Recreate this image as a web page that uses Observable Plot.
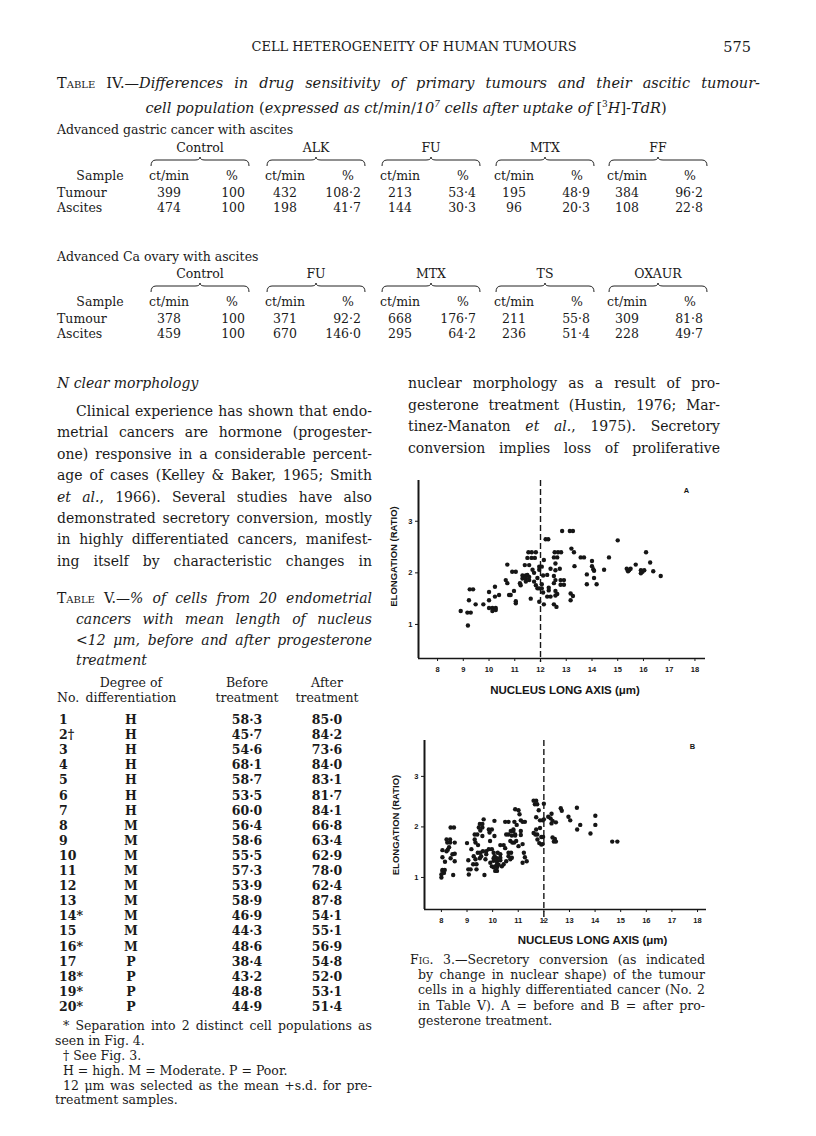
<!DOCTYPE html>
<html><head><meta charset="utf-8">
<script src="https://cdn.jsdelivr.net/npm/d3@7"></script>
<script src="https://cdn.jsdelivr.net/npm/@observablehq/plot@0.6"></script>
<style>
body{margin:0;background:#fff;}
#page{position:relative;width:816px;height:1136px;font-family:"DejaVu Serif",serif;color:#1a1a1a;overflow:hidden;background:#fff;}
.t{position:absolute;white-space:nowrap;line-height:16px;}
.sc{font-variant:small-caps;}
.chart{position:absolute;}
</style></head>
<body><div id="page"></div>
<script>
// ---------- Chart data (Fig. 3) ----------
const beforeX = [8.9,9.16,9.29,9.18,9.22,9.25,9.38,9.48,9.78,10.0,10.0,10.0,10.13,10.26,10.13,10.26,10.23,10.23,10.39,10.65,10.71,10.71,10.78,10.84,10.9,11.04,10.97,11.04,11.04,11.2,11.23,11.3,11.43,11.49,11.3,11.43,11.56,11.56,11.43,11.39,11.56,11.49,11.65,11.78,11.53,11.66,11.82,11.62,11.69,11.75,11.75,11.82,11.88,11.95,11.88,11.95,11.95,11.95,
12.84,13.14,13.26,12.2,12.3,13.2,13.3,12.55,12.68,12.8,12.52,12.65,13.56,13.69,12.13,12.58,13.32,14.0,14.0,14.05,14.08,14.66,15.0,14.47,13.8,14.08,13.8,14.18,15.35,15.44,15.4,15.5,15.7,15.9,15.96,15.9,16.03,16.1,16.26,16.38,16.67,12.39,12.58,12.75,12.26,12.52,12.58,12.78,12.91,12.52,12.78,12.91,12.32,12.32,12.58,12.65,12.58,13.17,13.26,13.17,12.26,12.39,12.13,12.52,12.62,12.05,12.05,12.1,12.05,12.1];
const beforeY = [1.26,1.23,1.23,0.98,1.47,1.68,1.68,1.39,1.39,1.63,1.47,1.32,1.32,1.32,1.26,1.28,1.73,1.54,1.57,1.86,1.8,2.16,1.57,1.57,2.02,2.02,1.65,1.45,1.41,1.8,1.76,1.95,1.95,1.96,1.89,1.89,1.92,1.86,1.83,2.15,2.15,2.29,2.29,2.29,2.4,2.4,2.4,1.5,2.06,2.0,1.83,1.76,1.7,1.7,1.9,2.12,2.06,1.44,
2.81,2.81,2.81,2.65,2.65,2.47,2.4,2.4,2.4,2.4,2.3,2.3,2.3,2.3,2.25,2.18,2.13,2.23,2.13,2.07,2.04,2.3,2.63,2.06,1.97,1.9,1.78,1.78,2.08,2.05,2.03,2.08,2.16,2.05,2.02,1.99,2.05,2.4,2.2,2.03,1.94,2.08,2.05,2.08,1.96,1.94,1.86,1.86,1.86,1.8,1.77,1.77,1.71,1.66,1.65,1.59,1.56,1.6,1.55,1.47,1.54,1.54,1.39,1.39,1.34,1.78,1.7,1.62,2.12,1.95];
const afterX = [8.0,8.0,8.04,8.04,8.13,8.1,8.04,8.04,8.14,8.2,8.25,8.23,8.34,8.2,8.34,8.3,8.36,8.43,8.36,8.49,8.52,8.52,8.52,8.46,9.0,9.05,9.05,9.14,9.07,9.17,9.24,9.37,9.26,9.33,9.3,9.4,9.3,9.33,9.43,9.42,9.52,9.62,9.5,9.55,9.37,9.46,9.6,9.5,9.6,9.52,9.65,9.6,9.68,9.75,9.75,9.72,9.85,9.97,9.88,9.9,9.85,9.97,10.04,10.17,9.97,10.1,9.91,10.04,10.17,10.3,10.07,10.07,10.04,10.2,10.08,10.04,10.17,10.23,10.1,10.17,10.17,10.3,10.3,10.36,10.43,10.3,10.43,10.53,10.49,10.49,10.62,10.53,10.62,10.62,10.72,10.62,10.69,10.75,10.69,10.77,10.84,10.71,10.81,10.75,10.88,10.81,10.88,11.01,10.85,10.94,10.88,10.92,11.01,11.05,11.1,11.1,11.1,11.17,11.17,11.26,11.22,11.26,11.33,11.17,11.6,11.7,11.65,11.74,11.8,11.7,11.6,11.67,11.74,11.7,11.75,11.82,11.9,11.95,11.9,11.97,11.85,11.95,11.85,12.0,12.0,
12.17,12.26,12.3,12.34,12.47,12.3,12.34,12.43,12.39,12.47,12.66,12.7,12.96,13.03,13.29,13.42,13.3,13.82,14.01,14.01,14.67,14.87];
const afterY = [1.0,1.06,1.13,1.15,1.15,1.09,1.54,1.4,1.31,1.52,1.55,1.69,1.69,1.75,1.75,1.6,1.38,1.46,1.99,1.99,1.69,1.47,1.32,1.05,1.68,1.34,1.16,1.16,1.06,1.56,1.26,1.26,1.42,1.36,1.85,1.85,1.75,1.69,1.64,1.49,1.49,1.52,1.38,1.42,1.16,1.99,1.99,2.06,2.06,1.93,2.15,1.82,1.05,1.52,1.46,1.36,1.95,1.95,1.89,1.72,1.56,1.56,1.38,1.38,1.22,1.22,1.29,1.33,1.32,1.34,2.12,1.82,1.49,1.49,1.42,1.2,1.2,1.25,1.13,1.13,1.26,1.39,1.46,1.22,1.26,1.64,1.64,1.32,1.58,2.1,2.1,1.85,1.85,1.49,1.49,1.42,1.36,1.39,1.72,1.69,1.69,1.92,1.92,1.83,1.85,1.95,2.35,2.33,2.1,2.04,1.83,1.72,1.62,2.25,2.13,1.92,1.84,1.66,2.1,2.1,1.49,1.4,1.32,1.29,2.52,2.52,2.45,2.45,2.33,2.19,1.88,1.85,1.85,1.95,1.75,1.68,1.65,1.66,1.8,1.8,2.13,2.13,1.98,2.46,2.15,
2.2,2.17,2.26,2.12,2.09,2.07,1.79,1.76,1.71,1.71,2.37,2.32,2.2,2.13,2.38,2.04,1.95,1.87,2.22,2.04,1.71,1.71];
const xTicks = [8,9,10,11,12,13,14,15,16,17,18];
const yTicks = [1,2,3];
const cutoff = [12];

// ---------- Table data ----------
const gastricGroups = ["Control","ALK","FU","MTX","FF"];
const gastricTumourCt = [399,432,213,195,384];
const gastricTumourPct = ["100","108·2","53·4","48·9","96·2"];
const gastricAscitesCt = [474,198,144,96,108];
const gastricAscitesPct = ["100","41·7","30·3","20·3","22·8"];
const ovaryGroups = ["Control","FU","MTX","TS","OXAUR"];
const ovaryTumourCt = [378,371,668,211,309];
const ovaryTumourPct = ["100","92·2","176·7","55·8","81·8"];
const ovaryAscitesCt = [459,670,295,236,228];
const ovaryAscitesPct = ["100","146·0","64·2","51·4","49·7"];

const caseNo = ["1","2†","3","4","5","6","7","8","9","10","11","12","13","14*","15","16*","17","18*","19*","20*"];
const degree = ["H","H","H","H","H","H","H","M","M","M","M","M","M","M","M","M","P","P","P","P"];
const beforeTreat = [58.3,45.7,54.6,68.1,58.7,53.5,60.0,56.4,58.6,55.5,57.3,53.9,58.9,46.9,44.3,48.6,38.4,43.2,48.8,44.9];
const afterTreat = [85.0,84.2,73.6,84.0,83.1,81.7,84.1,66.8,63.4,62.9,78.0,62.4,87.8,54.1,55.1,56.9,54.8,52.0,53.1,51.4];

const page = document.getElementById("page");
function put(html, x, y, o = {}) {
  const d = document.createElement("div");
  d.className = "t";
  const size = o.size || 13;
  d.style.fontSize = size + "px";
  d.style.top = (y - 8) + "px";
  if (o.italic) d.style.fontStyle = "italic";
  if (o.bold) d.style.fontWeight = "bold";
  d.innerHTML = html;
  if (o.w) {
    d.style.width = o.w + "px";
    const a = o.align || "left";
    d.style.left = (a === "center" ? x - o.w / 2 : a === "right" ? x - o.w : x) + "px";
    d.style.textAlign = a;
  } else d.style.left = x + "px";
  page.appendChild(d);
  if (o.justify) {
    let fs = size;
    while (d.scrollWidth > o.w + 0.5 && fs > 7) { fs -= 0.25; d.style.fontSize = fs + "px"; }
    d.style.whiteSpace = "normal";
    d.style.textAlign = "justify";
    d.style.textAlignLast = "justify";
  }
  return d;
}
function brace(cx, y, w) {
  const ns = "http://www.w3.org/2000/svg";
  const s = document.createElementNS(ns, "svg");
  s.setAttribute("width", w + 2); s.setAttribute("height", 12);
  s.style.position = "absolute"; s.style.left = (cx - w / 2 - 1) + "px"; s.style.top = (y - 5) + "px";
  const p = document.createElementNS(ns, "path");
  const h = w / 2 + 1;
  p.setAttribute("d", `M1,10 Q1,4 6,4 L${h - 5},4 Q${h},4 ${h},1 Q${h},4 ${h + 5},4 L${w - 4},4 Q${w + 1},4 ${w + 1},10`);
  p.setAttribute("fill", "none"); p.setAttribute("stroke", "#222"); p.setAttribute("stroke-width", "1");
  s.appendChild(p); page.appendChild(s);
}
const fmt = v => v.toFixed(1).replace(".", "·");

// ---------- Running head ----------
put("CELL HETEROGENEITY OF HUMAN TUMOURS", 414, 47, {w: 420, align: "center", size: 13});
put("575", 751, 47, {w: 60, align: "right", size: 14.5});

// ---------- Table IV ----------
put('<span class="sc">Table</span> IV.—<i>Differences in drug sensitivity of primary tumours and their ascitic tumour-</i>', 57, 83, {w: 703, justify: true, size: 14.5});
put('<i>cell population</i> (<i>expressed as ct</i>/<i>min</i>/<i>10<sup style="font-size:9px">7</sup> cells after uptake of</i> [<sup style="font-size:9px">3</sup><i>H</i>]-<i>TdR</i>)', 406, 104, {w: 620, align: "center", size: 14.5});

const centers = [200, 316, 431, 545, 658];
function tableIV(label, yLabel, yG, groups, tCt, tPct, aCt, aPct) {
  put(label, 57, yLabel, {size: 12.5});
  groups.forEach((g, i) => {
    const c = centers[i];
    put(g, c, yG, {w: 100, align: "center", size: 12.5});
    brace(c, yG + 13, 98);
    put("ct/min", c - 31, yG + 28, {w: 60, align: "center", size: 12.5});
    put("%", c + 32, yG + 28, {w: 30, align: "center", size: 12.5});
    put(String(tCt[i]), c - 31, yG + 45, {w: 60, align: "center", size: 12.5});
    put(tPct[i], c + 45, yG + 45, {w: 60, align: "right", size: 12.5});
    put(String(aCt[i]), c - 31, yG + 60, {w: 60, align: "center", size: 12.5});
    put(aPct[i], c + 45, yG + 60, {w: 60, align: "right", size: 12.5});
  });
  put("Sample", 100, yG + 28, {w: 80, align: "center", size: 12.5});
  put("Tumour", 57, yG + 45, {size: 12.5});
  put("Ascites", 57, yG + 60, {size: 12.5});
}
tableIV("Advanced gastric cancer with ascites", 130, 148, gastricGroups, gastricTumourCt, gastricTumourPct, gastricAscitesCt, gastricAscitesPct);
tableIV("Advanced Ca ovary with ascites", 257, 274, ovaryGroups, ovaryTumourCt, ovaryTumourPct, ovaryAscitesCt, ovaryAscitesPct);

// ---------- Left column text ----------
put("N clear morphology", 57, 383, {italic: true, size: 14});
const leftLines = [
  "Clinical experience has shown that endo-",
  "metrial cancers are hormone (progester-",
  "one) responsive in a considerable percent-",
  "age of cases (Kelley &amp; Baker, 1965; Smith",
  "<i>et al.</i>, 1966). Several studies have also",
  "demonstrated secretory conversion, mostly",
  "in highly differentiated cancers, manifest-",
  "ing itself by characteristic changes in"
];
leftLines.forEach((l, i) => put(l, i === 0 ? 76 : 57, 411 + 21.4 * i, {w: i === 0 ? 296 : 315, justify: true, size: 14}));

// ---------- Table V ----------
put('<span class="sc">Table</span> V.—<i>% of cells from 20 endometrial</i>', 57, 598, {w: 315, justify: true, size: 14});
put('<i>cancers with mean length of nucleus</i>', 76, 619, {w: 296, justify: true, size: 14});
put('&lt;<i>12 μm, before and after progesterone</i>', 76, 640, {w: 296, justify: true, size: 14});
put('<i>treatment</i>', 76, 660, {size: 14});
put("Degree of", 131, 683, {w: 120, align: "center", size: 12.5});
put("differentiation", 131, 698, {w: 120, align: "center", size: 12.5});
put("Before", 247, 683, {w: 90, align: "center", size: 12.5});
put("treatment", 247, 698, {w: 90, align: "center", size: 12.5});
put("After", 327, 683, {w: 90, align: "center", size: 12.5});
put("treatment", 327, 698, {w: 90, align: "center", size: 12.5});
put("No.", 57, 698, {size: 12.5});
caseNo.forEach((n, i) => {
  const y = 720 + 15.1 * i;
  put(n, 59, y, {size: 12.5, bold: true});
  put(degree[i], 131, y, {w: 40, align: "center", size: 12.5, bold: true});
  put(fmt(beforeTreat[i]), 247, y, {w: 60, align: "center", size: 12.5, bold: true});
  put(fmt(afterTreat[i]), 327, y, {w: 60, align: "center", size: 12.5, bold: true});
});
put("* Separation into 2 distinct cell populations as", 63, 1026, {w: 309, justify: true, size: 12.5});
put("seen in Fig. 4.", 55, 1041, {size: 12.5});
put("† See Fig. 3.", 63, 1056, {size: 12.5});
put("H = high. M = Moderate. P = Poor.", 63, 1071, {size: 12.5});
put("12 μm was selected as the mean +s.d. for pre-", 63, 1086, {w: 309, justify: true, size: 12.5});
put("treatment samples.", 55, 1100, {size: 12.5});

// ---------- Right column text ----------
const rightLines = [
  "nuclear morphology as a result of pro-",
  "gesterone treatment (Hustin, 1976; Mar-",
  "tinez-Manaton <i>et al.</i>, 1975). Secretory",
  "conversion implies loss of proliferative"
];
rightLines.forEach((l, i) => put(l, 408, 383 + 21.7 * i, {w: 312, justify: true, size: 14}));

// ---------- Charts ----------
function chart(o) {
  const data = o.xs.map((x, i) => ({x, y: o.ys[i]}));
  return Plot.plot({
    width: 345, height: o.height,
    marginLeft: o.marginLeft, marginRight: o.marginRight, marginTop: 10, marginBottom: 45,
    x: {domain: o.xDomain},
    y: {domain: o.yDomain},
    style: {fontFamily: "'Liberation Sans', Arial, sans-serif", fontWeight: "bold", fontSize: "7.5px", color: "#161616", background: "transparent", overflow: "visible"},
    marks: [
      Plot.ruleX(cutoff, {stroke: "#161616", strokeWidth: 1.4, strokeDasharray: "6,3", insetBottom: -o.cutExtend}),
      Plot.dot(data, {x: "x", y: "y", r: 2.2, fill: "#161616", stroke: "none"}),
      Plot.ruleX([o.xDomain[0]], {stroke: "#161616", strokeWidth: 2}),
      Plot.ruleY([o.yDomain[0]], {stroke: "#161616", strokeWidth: 1.6}),
      Plot.axisX({ticks: xTicks, tickSize: 3, tickPadding: 5, label: null, tickFormat: d => String(d)}),
      Plot.axisY({ticks: yTicks, tickSize: 3, tickPadding: 3, label: null, tickFormat: d => String(d)}),
      Plot.text(["NUCLEUS LONG AXIS (μm)"], {frameAnchor: "bottom", textAnchor: "middle", lineAnchor: "middle", dx: o.xTitleDx, dy: o.xTitleDy, fontSize: 11.5, fontWeight: "bold"}),
      Plot.text(["ELONGATION (RATIO)"], {frameAnchor: "left", textAnchor: "middle", lineAnchor: "middle", rotate: -90, dx: o.yTitleDx, dy: o.yTitleDy, fontSize: 9.5, fontWeight: "bold"}),
      Plot.text([o.tag], {frameAnchor: "top-right", textAnchor: "middle", lineAnchor: "middle", dx: o.tagDx, dy: o.tagDy, fontSize: 7.5, fontWeight: "bold"})
    ]
  });
}
function place(el, left, top) {
  const w = document.createElement("div");
  w.className = "chart"; w.style.left = left + "px"; w.style.top = top + "px";
  w.appendChild(el); page.appendChild(w);
}
place(chart({xs: beforeX, ys: beforeY, tag: "A", height: 233, marginLeft: 43, marginRight: 15,
  xDomain: [7.26, 18.41], yDomain: [0.34, 3.79], cutExtend: 4,
  xTitleDx: 3, xTitleDy: 32, yTitleDx: -25, yTitleDy: -13, tagDx: -19, tagDy: 10}), 375, 470);
place(chart({xs: afterX, ys: afterY, tag: "B", height: 224, marginLeft: 49, marginRight: 14,
  xDomain: [7.34, 18.35], yDomain: [0.366, 3.71], cutExtend: 12,
  xTitleDx: 27, xTitleDy: 31, yTitleDx: -29, yTitleDy: 0, tagDx: -14, tagDy: 6}), 375, 730);

// ---------- Figure caption ----------
const capLines = [
  '<span class="sc">Fig</span>. 3.—Secretory conversion (as indicated',
  "by change in nuclear shape) of the tumour",
  "cells in a highly differentiated cancer (No. 2",
  "in Table V). A = before and B = after pro-",
  "gesterone treatment."
];
capLines.forEach((l, i) => {
  if (i === capLines.length - 1) put(l, 418, 960 + 15.2 * i, {size: 12.5});
  else put(l, i === 0 ? 410 : 418, 960 + 15.2 * i, {w: i === 0 ? 295 : 287, justify: true, size: 12.5});
});
</script>
</body></html>
